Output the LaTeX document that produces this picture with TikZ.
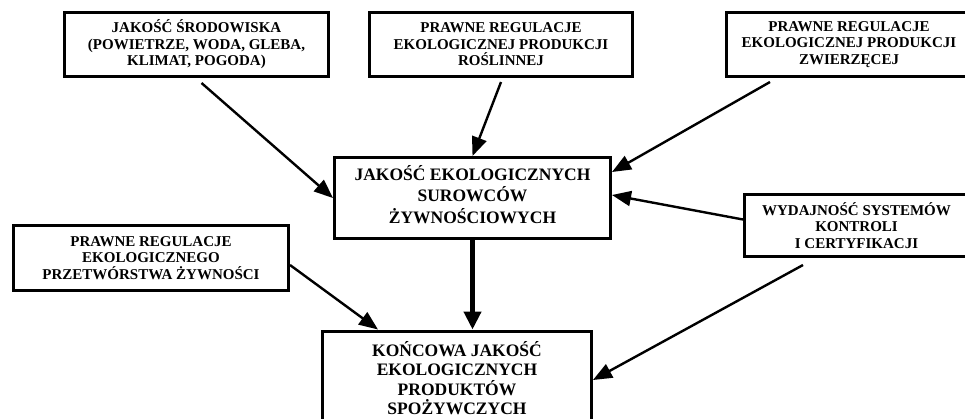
\documentclass[tikz,border=0pt]{standalone}
\usepackage{fontspec}
\setmainfont{Liberation Serif}
\usetikzlibrary{arrows.meta}

\begin{document}
\begin{tikzpicture}[x = 1pt, y = -1pt]
\tikzstyle{smallBox} = [draw, line width = 3pt, align = center, inner sep = 0pt,
font = \bfseries\fontsize{15}{16.5}\selectfont]
\tikzstyle{bigBox} = [draw, line width = 3pt, align = center, inner sep = 0pt,
font = \bfseries\fontsize{17.5}{21.5}\selectfont, text depth = 8pt]
\tikzstyle{arrowStyle} = [line width = 2.4pt, -{Triangle[length = 19pt, width = 15pt]}]
\path [use as bounding box, clip] (0,0) rectangle (965,418);
\node[smallBox, minimum width = 264pt, minimum height = 64pt] (env) at (196.5,44.5)
{JAKOŚĆ ŚRODOWISKA\\(POWIETRZE, WODA, GLEBA,\\KLIMAT, POGODA)};
\node[smallBox, minimum width = 263pt, minimum height = 64pt] (plant) at (501,44.5)
{PRAWNE REGULACJE\\EKOLOGICZNEJ PRODUKCJI\\ROŚLINNEJ};
\node[smallBox, minimum width = 245pt, minimum height = 64pt] (animal) at (849,44.5)
{PRAWNE REGULACJE\\EKOLOGICZNEJ PRODUKCJI\\ZWIERZĘCEJ};
\node[bigBox, minimum width = 276pt, minimum height = 81pt] (raw) at (472.5,198)
{JAKOŚĆ EKOLOGICZNYCH\\SUROWCÓW\\ŻYWNOŚCIOWYCH};
\node[smallBox, minimum width = 275pt, minimum height = 65pt] (proc) at (151,258)
{PRAWNE REGULACJE\\EKOLOGICZNEGO\\PRZETWÓRSTWA ŻYWNOŚCI};
\node[smallBox, minimum width = 224pt, minimum height = 62pt] (ctrl) at (856.5,225.5)
{WYDAJNOŚĆ SYSTEMÓW\\KONTROLI\\I CERTYFIKACJI};
\node[bigBox, minimum width = 269pt, minimum height = 94pt, text depth = 0pt,
font = \bfseries\fontsize{17.5}{19.5}\selectfont] (final) at (457,378)
{KOŃCOWA JAKOŚĆ\\EKOLOGICZNYCH\\PRODUKTÓW\\SPOŻYWCZYCH};
\path [arrowStyle]
([xshift = 5pt, yshift = -5pt]env.south) edge (raw.west)
([yshift = -4pt]plant.south) edge (raw.north)
([xshift = 45pt, yshift = -4pt]animal.south west) edge ([yshift = 26pt]raw.east)
([yshift = 6pt]ctrl.west) edge ([yshift = 3pt]raw.east)
([yshift = -7pt]proc.east) edge ([xshift = 57pt]final.north west)
([xshift = 60pt, yshift = -7pt]ctrl.south west) edge ([yshift = -2pt]final.east);
\path [line width = 4.2pt, -{Triangle[length = 18pt, width = 17pt]}]
(raw.south) edge (raw.south |- final.north);
\end{tikzpicture}
\end{document}
